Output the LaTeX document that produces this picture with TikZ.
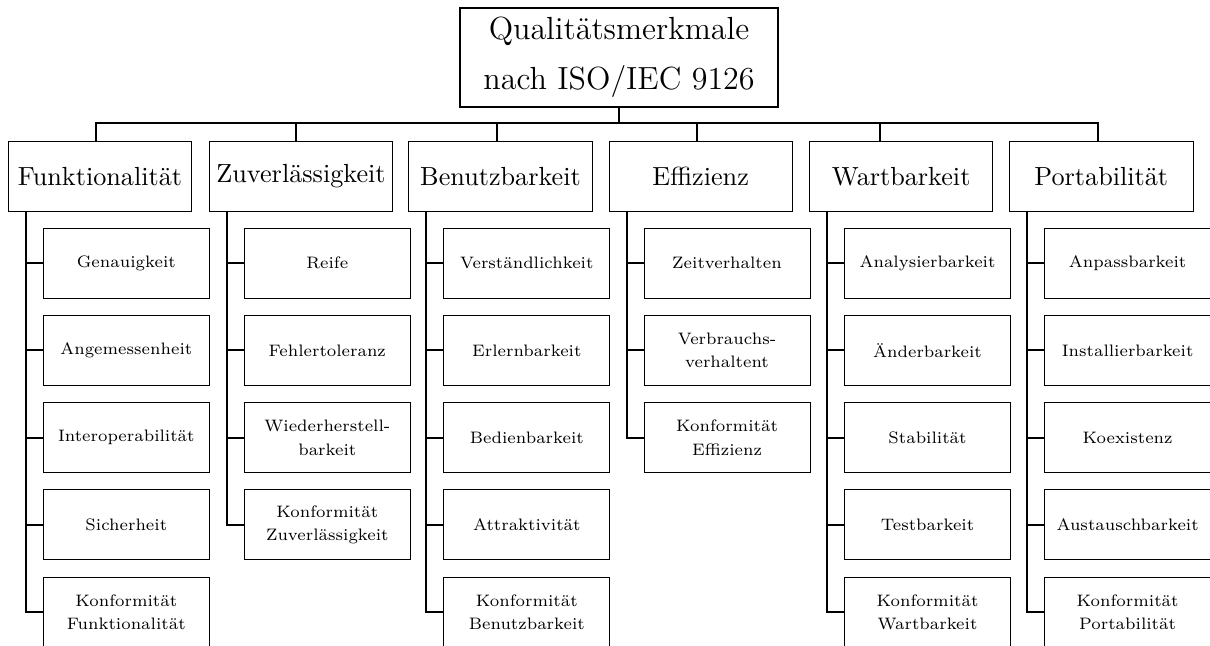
\documentclass[tikz,border=0pt]{standalone}
% Latin Modern optical sizes, loaded by file
\font\topfnt="[lmroman12-regular]:mapping=tex-text" at 16pt
\font\catfnt="[lmroman10-regular]:mapping=tex-text" at 13.1pt
\font\subfnt="[lmroman7-regular]:mapping=tex-text" at 8.3pt
\begin{document}
\tikzset{
  topbox/.style={draw, line width=0.75pt, minimum width=159pt, minimum height=49.5pt,
    inner sep=0pt, align=center, font={\topfnt\baselineskip=25pt\relax}},
  catbox/.style={draw, line width=0.5pt, minimum width=91.7pt, minimum height=35pt,
    inner sep=0pt, font=\catfnt},
  subbox/.style={draw, line width=0.5pt, minimum width=83pt, minimum height=35pt,
    inner sep=0pt, align=center, font={\subfnt\baselineskip=11.7pt\relax}},
  conn/.style={line width=1pt}
}
\begin{tikzpicture}[x=0.5pt,y=-0.5pt]
\useasboundingbox (0,0) rectangle (1210,646);

% root
\node[topbox] (top) at (619,57.6) {Qualitätsmerkmale\\nach ISO/IEC 9126};
\coordinate (bus) at (619,123.3);

% characteristics
\node[catbox] (funk) at (100,176.5)    {Funktionalität};
\node[catbox] (zuv)  at (301,176.5)    {Zuverlässigkeit};
\node[catbox] (ben)  at (500.5,176.5)  {Benutzbarkeit};
\node[catbox] (eff)  at (700.7,176.5)  {Effizienz};
\node[catbox] (wart) at (901.2,176.5)  {Wartbarkeit};
\node[catbox] (port) at (1101.3,176.5) {Portabilität};

% sub-characteristics
\node[subbox] (funk1) at (126.3,263.3) {Genauigkeit};
\node[subbox] (funk2) at (126.3,350.5) {Angemessenheit};
\node[subbox] (funk3) at (126.3,437.7) {Interoperabilität};
\node[subbox] (funk4) at (126.3,524.9) {Sicherheit};
\node[subbox] (funk5) at (126.3,612.1) {Konformität\\Funktionalität};

\node[subbox] (zuv1) at (327.3,263.3) {Reife};
\node[subbox] (zuv2) at (327.3,350.5) {Fehlertoleranz};
\node[subbox] (zuv3) at (327.3,437.7) {Wiederherstell-\\barkeit};
\node[subbox] (zuv4) at (327.3,524.9) {Konformität\\Zuverlässigkeit};

\node[subbox] (ben1) at (526.8,263.3) {Verständlichkeit};
\node[subbox] (ben2) at (526.8,350.5) {Erlernbarkeit};
\node[subbox] (ben3) at (526.8,437.7) {Bedienbarkeit};
\node[subbox] (ben4) at (526.8,524.9) {Attraktivität};
\node[subbox] (ben5) at (526.8,612.1) {Konformität\\Benutzbarkeit};

\node[subbox] (eff1) at (727,263.3) {Zeitverhalten};
\node[subbox] (eff2) at (727,350.5) {Verbrauchs-\\verhaltent};
\node[subbox] (eff3) at (727,437.7) {Konformität\\Effizienz};

\node[subbox] (wart1) at (927.5,263.3) {Analysierbarkeit};
\node[subbox] (wart2) at (927.5,350.5) {Änderbarkeit};
\node[subbox] (wart3) at (927.5,437.7) {Stabilität};
\node[subbox] (wart4) at (927.5,524.9) {Testbarkeit};
\node[subbox] (wart5) at (927.5,612.1) {Konformität\\Wartbarkeit};

\node[subbox] (port1) at (1127.6,263.3) {Anpassbarkeit};
\node[subbox] (port2) at (1127.6,350.5) {Installierbarkeit};
\node[subbox] (port3) at (1127.6,437.7) {Koexistenz};
\node[subbox] (port4) at (1127.6,524.9) {Austauschbarkeit};
\node[subbox] (port5) at (1127.6,612.1) {Konformität\\Portabilität};

% root to characteristics
\draw[conn] (top.south) -- (bus);
\draw[conn] (bus) -| ([xshift=-2.15pt]funk.north);
\draw[conn] (bus) -| ([xshift=-2.5pt]zuv.north);
\draw[conn] (bus) -| ([xshift=-1.9pt]ben.north);
\draw[conn] (bus) -| ([xshift=-1.85pt]eff.north);
\draw[conn] (bus) -| ([xshift=-10.5pt]wart.north);
\draw[conn] (bus) -| ([xshift=-1.5pt]port.north);

% characteristics to sub-characteristics
\foreach \c/\n in {funk/5, zuv/4, ben/5, eff/3, wart/5, port/5}{
  \coordinate (\c T) at ([xshift=9pt]\c.south west);
  \draw[conn] (\c T) |- (\c\n.west);
  \foreach \i in {1,...,\n}{
    \draw[conn] (\c T |- \c\i.west) -- (\c\i.west);
  }
}
\end{tikzpicture}
\end{document}
